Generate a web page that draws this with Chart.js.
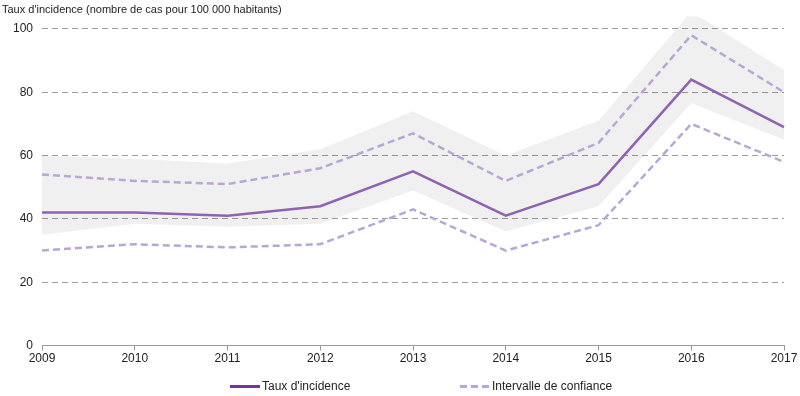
<!DOCTYPE html>
<html>
<head>
<meta charset="utf-8">
<script src="https://cdn.jsdelivr.net/npm/chart.js@4"></script>
<style>
  body { margin:0; background:#fff; font-family:"Liberation Sans", Arial, sans-serif; }
  .wrap { position:relative; width:800px; height:396px; }
  #c { position:absolute; left:0; top:0; }
  .ttl { position:absolute; left:2px; top:3px; font-size:11px; color:#222; }
  .lg { position:absolute; top:379px; font-size:12px; color:#222; line-height:14px; }
  .lg span.s { position:absolute; top:6px; width:30px; height:3px; }
</style>
</head>
<body>
<div class="wrap">
  <canvas id="c" width="800" height="396"></canvas>
  <div class="ttl">Taux d'incidence (nombre de cas pour 100 000 habitants)</div>
  <div class="lg" style="left:230px;"><span class="s" style="left:0;background:#7333a3;"></span><span style="margin-left:32px;">Taux d'incidence</span></div>
  <div class="lg" style="left:460px;"><span class="s" style="left:0;background:repeating-linear-gradient(90deg,#b9a6d6 0 7px,transparent 7px 11px);"></span><span style="margin-left:32px;">Intervalle de confiance</span></div>
</div>
<script>
// années
const annees = ['2009','2010','2011','2012','2013','2014','2015','2016','2017'];
// taux d'incidence (pour 100 000 hab.)
const taux = [42, 42, 41, 44, 55, 41, 51, 84, 69];
// intervalle de confiance
const icHaut = [54, 52, 51, 56, 67, 52, 64, 98, 80];
const icBas  = [30, 32, 31, 32, 43, 30, 38, 70, 58];
// zone grisée
const zoneHaut = [60, 59, 57.5, 62, 74, 60, 71, 105.5, 87];
const zoneBas  = [35, 38.5, 37.5, 38.5, 49, 36, 44, 76.5, 65];
const yTicks = [0, 20, 40, 60, 80, 100];

const font = { family: '"Liberation Sans", Arial, sans-serif', size: 12 };

new Chart(document.getElementById('c').getContext('2d'), {
  type: 'line',
  data: {
    labels: annees,
    datasets: [
      { label: "Taux d'incidence", data: taux, borderColor: '#9062b4', borderWidth: 2.5, pointRadius: 0, fill: false, tension: 0 },
      { label: 'IC haut', data: icHaut, borderColor: '#b8a7d4', borderWidth: 2.5, borderDash: [7, 4], pointRadius: 0, fill: false },
      { label: 'IC bas', data: icBas, borderColor: '#b8a7d4', borderWidth: 2.5, borderDash: [7, 4], pointRadius: 0, fill: false },
      { label: 'zone haut', data: zoneHaut, borderWidth: 0, borderColor: 'rgba(0,0,0,0)', backgroundColor: 'rgba(0,0,0,0.06)', pointRadius: 0, fill: '+1' },
      { label: 'zone bas', data: zoneBas, borderWidth: 0, borderColor: 'rgba(0,0,0,0)', pointRadius: 0, fill: false }
    ]
  },
  options: {
    responsive: false,
    animation: false,
    layout: { padding: { top: 0, right: 16, bottom: 29, left: 0 } },
    plugins: { legend: { display: false }, tooltip: { enabled: false } },
    scales: {
      x: {
        offset: false,
        border: { display: true, color: '#9a9a9a' },
        grid: { drawOnChartArea: false, drawTicks: true, tickLength: 5, color: '#9a9a9a' },
        ticks: { font, color: '#222', padding: 1, maxRotation: 0 }
      },
      y: {
        min: 0, max: 104,
        afterBuildTicks: s => { s.ticks = yTicks.map(v => ({ value: v })); },
        afterFit: s => { s.width = 42; },
        grid: {
          drawTicks: false,
          color: c => c.tick && c.tick.value === 0 ? 'rgba(0,0,0,0)' : '#9e9e9e',
          lineWidth: 1
        },
        border: { display: false, dash: [6, 4] },
        ticks: { font, color: '#222', padding: 9 }
      }
    }
  }
});
</script>
</body>
</html>
